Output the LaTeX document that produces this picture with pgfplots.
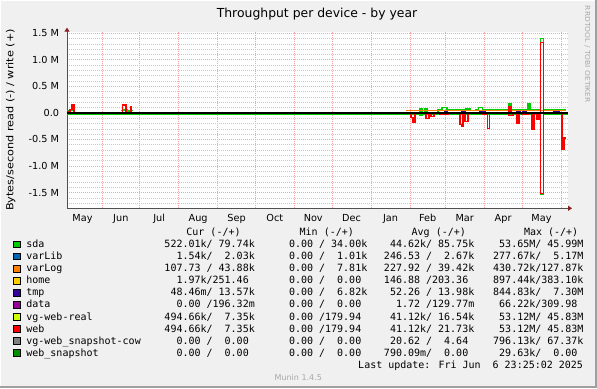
\documentclass[border=0pt]{standalone}
\usepackage{pgfplots}
\pgfplotsset{compat=1.18}
\usetikzlibrary{arrows.meta}
\usepackage{fontspec}
\setmainfont{DejaVu Sans}
\newfontfamily\monofont{DejaVu Sans Mono}
\definecolor{cSda}{HTML}{00CC00}
\definecolor{cVarLib}{HTML}{0066B3}
\definecolor{cVarLog}{HTML}{FF8000}
\definecolor{cHome}{HTML}{FFCC00}
\definecolor{cTmp}{HTML}{330099}
\definecolor{cData}{HTML}{990099}
\definecolor{cVgReal}{HTML}{CCFF00}
\definecolor{cWeb}{HTML}{FF0000}
\definecolor{cCow}{HTML}{808080}
\definecolor{cSnap}{HTML}{008F00}
\definecolor{bgc}{HTML}{F0F0F0}
\definecolor{framec}{HTML}{A0A0A0}
\definecolor{mgrid}{HTML}{F4A6A6}
\definecolor{ngrid}{HTML}{C8C8C8}
\definecolor{axisc}{HTML}{505050}
\definecolor{arrowc}{HTML}{8C1E1E}
\definecolor{munc}{HTML}{A8A8A8}
\newlength\cw
\setlength{\cw}{6.0205bp}
\newcommand{\lgfont}{\monofont\fontsize{10bp}{12bp}\selectfont}
\newcommand{\vv}[2]{\makebox[6\cw][r]{#1}\makebox[\cw][l]{#2}}
\newcommand{\slh}{\makebox[\cw][c]{/}}
\begin{document}
\begin{tikzpicture}[x=1bp,y=1bp]
\useasboundingbox (0,0) rectangle (597,388);
\fill[bgc] (0,0) rectangle (597,388);
\draw[white, line width=1bp] (0.5,0) -- (0.5,387.5) -- (597,387.5);
\draw[framec, line width=2.5bp] (0,1.25) -- (595.75,1.25) -- (595.75,388);
% title
\node[anchor=base, inner sep=0pt, font=\fontsize{12.4bp}{14bp}\selectfont] at (317,370.7) {Throughput per device - by year};
% y label
\node[anchor=base, inner sep=0pt, rotate=90, font=\fontsize{9.7bp}{11bp}\selectfont] at (13.3,268) {\scalebox{1.16}[1]{Bytes/second read (-) / write (+)}};
% watermark
\node[anchor=west, inner sep=0pt, rotate=-90, text=munc, font=\fontsize{6.9bp}{8bp}\selectfont] at (587.3,382.3) {\scalebox{1.09}[1]{RRDTOOL / TOBI OETIKER}};
\begin{axis}[
  at={(67bp,179.7bp)}, anchor=south west,
  width=501bp, height=176.6bp, scale only axis,
  xmin=-27.8, xmax=370.6, ymin=-1.795e6, ymax=1.531e6,
  axis background/.style={fill=white},
  axis x line*=bottom, axis y line*=left,
  axis line style={draw=axisc, line width=1bp},
  x axis line style={-{Triangle[length=4bp,width=5bp,color=arrowc]}, shorten >=-4bp},
  y axis line style={-{Triangle[length=4bp,width=5bp,color=arrowc]}, shorten >=-4bp},
  xtick={0,30,61,92,122,153,183,214,245,273,304,334,365},
  xticklabels={,,},
  extra x ticks={-15.5,15,45.5,76.5,107,137.5,168,198.5,229.5,259,288.5,319,349.5},
  extra x tick labels={May,Jun,Jul,Aug,Sep,Oct,Nov,Dec,Jan,Feb,Mar,Apr,May},
  extra x tick style={grid=none, major tick length=0pt},
  xmajorgrids=true,
  ytick={-1.5e6,-1e6,-0.5e6,0,0.5e6,1e6,1.5e6},
  yticklabels={-1.5 M,-1.0 M,-0.5 M,0.0\hspace{4.5bp},0.5 M,1.0 M,1.5 M},
  scaled y ticks=false,
  minor ytick={-1.7e6,-1.6e6,-1.4e6,-1.3e6,-1.2e6,-1.1e6,-0.9e6,-0.8e6,-0.7e6,-0.6e6,-0.4e6,-0.3e6,-0.2e6,-0.1e6,0.1e6,0.2e6,0.3e6,0.4e6,0.6e6,0.7e6,0.8e6,0.9e6,1.1e6,1.2e6,1.3e6,1.4e6},
  ymajorgrids=true, yminorgrids=true,
  major grid style={draw=mgrid, line width=0.8bp, dash pattern=on 1bp off 1bp},
  minor grid style={draw=ngrid, line width=0.8bp, dash pattern=on 1bp off 1bp},
  major tick length=0pt, minor tick length=0pt,
  tick label style={font=\fontsize{9.7bp}{11bp}\selectfont, inner sep=0pt},
  xticklabel style={anchor=base, yshift=-12.7bp},
  yticklabel style={anchor=base east, xshift=-7.7bp, yshift=-3.4bp},
  unbounded coords=jump,
  every axis plot/.append style={const plot mark left, no markers, line width=1.1bp},
]
% sda read (green, negative)
\addplot[cSda] coordinates {(-27.8,-22e3)(252.9,-40e3)(254.5,-22e3)(348.73,-1.53e6)(351.12,-22e3)(370.6,-22e3)};
% sda write (green, positive)
\addplot[cSda] coordinates {(-27.8,50e3)(-25.4,60e3)(-23.9,40e3)(-22.3,110e3)(-21.5,110e3)(-21.4,nan)
 (15.5,50e3)(17.5,60e3)(19.9,20e3)(21.5,50e3)(24.7,50e3)(24.8,nan)
 (241.7,5e3)(252.9,85e3)(254.5,5e3)(256.9,80e3)(258.5,5e3)(267.2,70e3)(270.4,95e3)(274.4,70e3)(289.5,75e3)(292.7,55e3)(296.7,70e3)(299.1,95e3)(302.3,70e3)(323.7,185e3)(325.3,70e3)(338.8,170e3)(340.4,70e3)(348.73,1.4e6)(351.12,70e3)(368.9,70e3)};
% varLog write
\addplot[cVarLog] coordinates {(241.7,50e3)(368.9,50e3)};
% tmp write
\addplot[cTmp] coordinates {(-22.3,80e3)(-21.5,80e3)(-21.4,nan)
 (241.7,0)(272.8,30e3)(274.6,0)(286.3,30e3)(288.7,0)(300.6,30e3)(304.8,0)(329.8,30e3)(333,0)(334.5,30e3)(337.2,0)(359.4,30e3)(363.7,0)(368.9,0)};
% web read (red, negative)
\addplot[cWeb, line width=1.2bp] coordinates {(241.7,-3e3)(245.7,-85e3)(247.3,-180e3)(248.9,-3e3)(257.7,-110e3)(260.0,-3e3)(261.6,-70e3)(264.0,-3e3)(268.8,-25e3)(275.2,-3e3)(284.7,-210e3)(286.0,-260e3)(287.1,-3e3)(288.7,-160e3)(291.1,-3e3)(303.0,-20e3)(306.6,-290e3)(307.9,-3e3)(323.7,-50e3)(326.8,-3e3)(330.0,-190e3)(331.6,-3e3)(334.0,-20e3)(338.8,-3e3)(341.9,-300e3)(343.5,-3e3)(345.9,-120e3)(347.5,-3e3)(348.73,-1.52e6)(351.12,-3e3)(365.8,-680e3)(367.4,-470e3)(368.9,-470e3)};
% web write (red, positive)
\addplot[cWeb, line width=1.2bp] coordinates {(-27.8,0)(-27.0,20e3)(-25.4,70e3)(-23.9,160e3)(-22.3,0)(-21.5,0)(-21.4,nan)
 (15.5,0)(16.5,150e3)(19.1,0)(22.7,125e3)(23.5,0)(24.7,0)(24.8,nan)
 (241.7,0)(323.7,120e3)(325.3,0)(348.73,1.33e6)(351.12,0)(368.9,0)};
% zero line
\addplot[black, line width=1.1bp] coordinates {(-27.8,0)(370.6,0)};
\end{axis}
% legend
\newcommand{\legrow}[7]{%
  \filldraw[fill=#2, draw=black, line width=0.8bp] (13.8,#1-0.1) rectangle (20.2,#1+6.5);
  \node[anchor=base west, inner sep=0pt, font=\lgfont] at (26.2,#1) {#3};
  \node[anchor=base east, inner sep=0pt, font=\lgfont] at (255,#1) {#4};
  \node[anchor=base east, inner sep=0pt, font=\lgfont] at (367.5,#1) {#5};
  \node[anchor=base east, inner sep=0pt, font=\lgfont] at (474.5,#1) {#6};
  \node[anchor=base east, inner sep=0pt, font=\lgfont] at (583.7,#1) {#7};}
\node[anchor=base west, inner sep=0pt, font=\lgfont] at (186.2,152.3) {Cur (-/+)};
\node[anchor=base west, inner sep=0pt, font=\lgfont] at (299.5,152.3) {Min (-/+)};
\node[anchor=base west, inner sep=0pt, font=\lgfont] at (411.5,152.3) {Avg (-/+)};
\node[anchor=base west, inner sep=0pt, font=\lgfont] at (523.8,152.3) {Max (-/+)};
\legrow{140.3}{cSda}{sda}{\vv{522.01}{k}\slh\vv{79.74}{k}}{\vv{0.00}{}\slh\vv{34.00}{k}}{\vv{44.62}{k}\slh\vv{85.75}{k}}{\vv{53.65}{M}\slh\vv{45.99}{M}}
\legrow{128.25}{cVarLib}{varLib}{\vv{1.54}{k}\slh\vv{2.03}{k}}{\vv{0.00}{}\slh\vv{1.01}{k}}{\vv{246.53}{}\slh\vv{2.67}{k}}{\vv{277.67}{k}\slh\vv{5.17}{M}}
\legrow{116.2}{cVarLog}{varLog}{\vv{107.73}{}\slh\vv{43.88}{k}}{\vv{0.00}{}\slh\vv{7.81}{k}}{\vv{227.92}{}\slh\vv{39.42}{k}}{\vv{430.72}{k}\slh\vv{127.87}{k}}
\legrow{104.15}{cHome}{home}{\vv{1.97}{k}\slh\vv{251.46}{}}{\vv{0.00}{}\slh\vv{0.00}{}}{\vv{146.88}{}\slh\vv{203.36}{}}{\vv{897.44}{k}\slh\vv{383.10}{k}}
\legrow{92.1}{cTmp}{tmp}{\vv{48.46}{m}\slh\vv{13.57}{k}}{\vv{0.00}{}\slh\vv{6.82}{k}}{\vv{52.26}{}\slh\vv{13.98}{k}}{\vv{844.83}{k}\slh\vv{7.30}{M}}
\legrow{80.05}{cData}{data}{\vv{0.00}{}\slh\vv{196.32}{m}}{\vv{0.00}{}\slh\vv{0.00}{}}{\vv{1.72}{}\slh\vv{129.77}{m}}{\vv{66.22}{k}\slh\vv{309.98}{}}
\legrow{68.0}{cVgReal}{vg-web-real}{\vv{494.66}{k}\slh\vv{7.35}{k}}{\vv{0.00}{}\slh\vv{179.94}{}}{\vv{41.12}{k}\slh\vv{16.54}{k}}{\vv{53.12}{M}\slh\vv{45.83}{M}}
\legrow{55.95}{cWeb}{web}{\vv{494.66}{k}\slh\vv{7.35}{k}}{\vv{0.00}{}\slh\vv{179.94}{}}{\vv{41.12}{k}\slh\vv{21.73}{k}}{\vv{53.12}{M}\slh\vv{45.83}{M}}
\legrow{43.9}{cCow}{vg-web\_snapshot-cow}{\vv{0.00}{}\slh\vv{0.00}{}}{\vv{0.00}{}\slh\vv{0.00}{}}{\vv{20.62}{}\slh\vv{4.64}{}}{\vv{796.13}{k}\slh\vv{67.37}{k}}
\legrow{31.85}{cSnap}{web\_snapshot}{\vv{0.00}{}\slh\vv{0.00}{}}{\vv{0.00}{}\slh\vv{0.00}{}}{\vv{790.09}{m}\slh\vv{0.00}{}}{\vv{29.63}{k}\slh\vv{0.00}{}}
\node[anchor=base east, inner sep=0pt, font=\lgfont] at (583.2,19.7) {Last update: Fri Jun\ \ 6 23:25:02 2025};
\node[anchor=base, inner sep=0pt, text=munc, font=\fontsize{8bp}{9bp}\selectfont] at (298.3,8) {Munin 1.4.5};
\end{tikzpicture}
\end{document}
